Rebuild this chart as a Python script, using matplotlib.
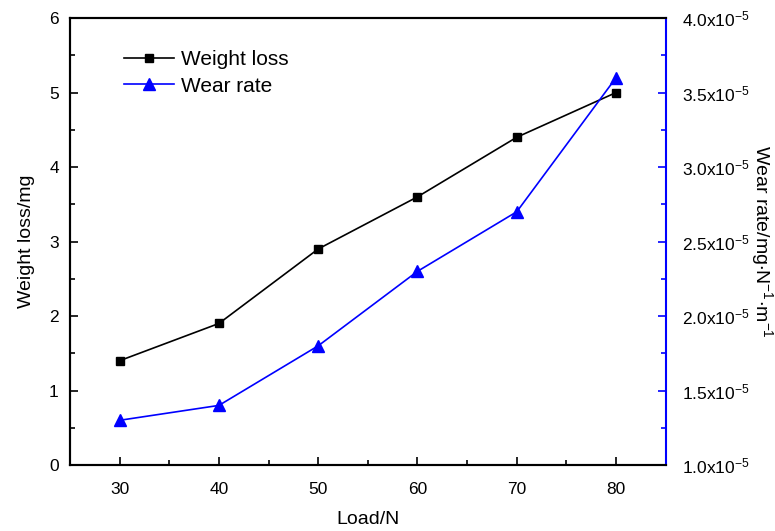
import numpy as np
import matplotlib
matplotlib.use('Agg')
import matplotlib.pyplot as plt
from matplotlib.ticker import MultipleLocator, FuncFormatter

plt.rcParams['font.family'] = ['Liberation Sans', 'DejaVu Sans']
plt.rcParams['mathtext.default'] = 'regular'

load = [30, 40, 50, 60, 70, 80]
weight_loss = [1.4, 1.9, 2.9, 3.6, 4.4, 5.0]
wear_rate = [1.3e-5, 1.4e-5, 1.8e-5, 2.3e-5, 2.7e-5, 3.6e-5]

fig = plt.figure(figsize=(7.75, 5.31), dpi=100)
ax = fig.add_axes([0.0903, 0.1243, 0.7687, 0.8417])
ax2 = ax.twinx()

l1, = ax.plot(load, weight_loss, color='black', marker='s', ms=6, lw=1.2, label='Weight loss')
l2, = ax2.plot(load, wear_rate, color='blue', marker='^', ms=8, lw=1.2, label='Wear rate')

ax.set_xlim(25, 85)
ax.set_ylim(0, 6)
ax2.set_ylim(1.0e-5, 4.0e-5)

ax.xaxis.set_major_locator(MultipleLocator(10))
ax.xaxis.set_minor_locator(MultipleLocator(5))
ax.yaxis.set_major_locator(MultipleLocator(1))
ax.yaxis.set_minor_locator(MultipleLocator(0.5))
ax2.yaxis.set_major_locator(MultipleLocator(0.5e-5))
ax2.yaxis.set_minor_locator(MultipleLocator(0.25e-5))

def fmt(v, pos):
    return r'%.1fx10$^{-5}$' % (v * 1e5)

ax2.yaxis.set_major_formatter(FuncFormatter(fmt))

ax.tick_params(axis='both', which='both', direction='in', labelsize=12.5, width=1.2, top=False)
ax.tick_params(which='major', length=6)
ax.tick_params(which='minor', length=3.5)
ax.tick_params(axis='x', which='major', pad=12)
ax.tick_params(axis='y', which='major', pad=8)
ax2.tick_params(axis='y', which='both', direction='in', labelsize=12.5, width=1.2, colors='blue', labelcolor='black')
ax2.tick_params(which='major', length=6, pad=12)
ax2.tick_params(which='minor', length=3.5)

for s in ['left', 'bottom', 'top']:
    ax.spines[s].set_linewidth(1.5)
    ax2.spines[s].set_linewidth(1.5)
ax2.spines['right'].set_color('blue')
ax2.spines['right'].set_linewidth(1.5)
ax.spines['right'].set_visible(False)

ax.set_xlabel('Load/N', fontsize=14, labelpad=10)
ax.set_ylabel('Weight loss/mg', fontsize=14, labelpad=10)
ax2.set_ylabel(r'Wear rate/mg$\cdot$N$^{-1}$$\cdot$m$^{-1}$', fontsize=14, rotation=270, labelpad=18)

ax.legend([l1, l2], ['Weight loss', 'Wear rate'], loc='upper left', bbox_to_anchor=(0.06, 0.97),
          frameon=False, fontsize=15, handlelength=2.4, handletextpad=0.3, labelspacing=0.35)

fig.savefig('out.png', dpi=100)
